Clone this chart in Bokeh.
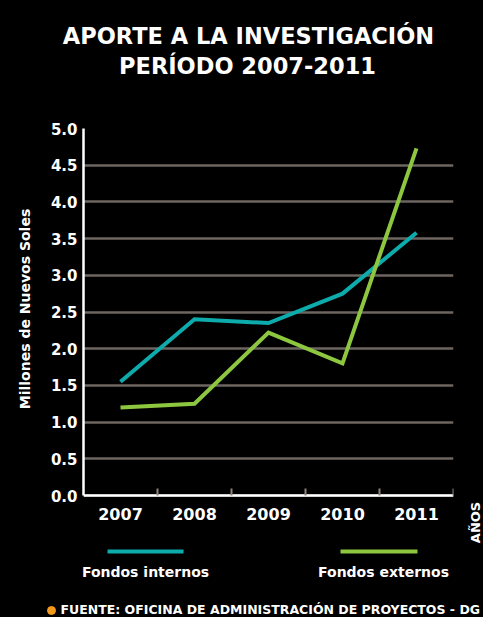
from bokeh.plotting import figure
from bokeh.models import Range1d, FixedTicker, NumeralTickFormatter
from bokeh.layouts import column, row
from bokeh.embed import file_html
from bokeh.resources import INLINE
from bokeh.core.properties import value
import math

# ---- data ----
years = ["2007", "2008", "2009", "2010", "2011"]
fondos_internos = [1.55, 2.40, 2.35, 2.75, 3.58]
fondos_externos = [1.20, 1.25, 2.22, 1.80, 4.73]
y_ticks = [0.0, 0.5, 1.0, 1.5, 2.0, 2.5, 3.0, 3.5, 4.0, 4.5, 5.0]
title_lines = ["APORTE A LA INVESTIGACIÓN", "PERÍODO 2007-2011"]
y_label = "Millones de Nuevos Soles"
x_label = "AÑOS"
series_names = ["Fondos internos", "Fondos externos"]
source_note = "FUENTE: OFICINA DE ADMINISTRACIÓN DE PROYECTOS - DG"

TEAL = "#0eabad"
GREEN = "#8dc63f"
GRID = "#6d6560"
ORANGE = "#f39a1e"
FONT = "DejaVu Sans"
W = 483
TOP_H = 110
MID_H = 435
BOT_H = 617 - TOP_H - MID_H
LEFT_W = 40
MAIN_W = 456 - LEFT_W
SIDE_W = W - LEFT_W - MAIN_W
FRAME_LEFT = 83      # page px of the y axis
FRAME_TOP = 128      # page px of y = top tick
AXIS_Y = 495         # page px of y = 0
PX_PER_UNIT = (AXIS_Y - FRAME_TOP) / y_ticks[-1]
Y_MIN = -(TOP_H + MID_H - AXIS_Y) / PX_PER_UNIT   # frame reaches bottom of row


def blank(width, height, y_range=None):
    f = figure(width=width, height=height, output_backend="svg",
               toolbar_location=None, x_axis_location=None,
               y_axis_location=None, min_border=0,
               x_range=Range1d(0, width),
               y_range=y_range if y_range is not None else Range1d(0, height))
    f.background_fill_color = "black"
    f.border_fill_color = "black"
    f.outline_line_color = None
    f.grid.visible = False
    return f


def to_units(py):
    return (AXIS_Y - py) / PX_PER_UNIT


# ---- title ----
top = blank(W, TOP_H)
top.text(x=[248, 247], y=[TOP_H - 35, TOP_H - 65], text=title_lines,
         text_align="center", text_baseline="middle", text_color="white",
         text_font=value(FONT), text_font_style="bold",
         text_font_size="22.5px")

# ---- main chart ----
xs = [i + 0.5 for i in range(len(years))]
p = figure(width=MAIN_W, height=MID_H, output_backend="svg",
           toolbar_location=None,
           x_range=Range1d(0, len(years)), y_range=Range1d(Y_MIN, y_ticks[-1]),
           min_border_left=FRAME_LEFT - LEFT_W, min_border_right=3,
           min_border_top=FRAME_TOP - TOP_H, min_border_bottom=0)
p.background_fill_color = "black"
p.border_fill_color = "black"
p.outline_line_color = None

p.xgrid.grid_line_color = None
p.ygrid.ticker = FixedTicker(ticks=y_ticks)
p.ygrid.grid_line_color = GRID
p.ygrid.grid_line_width = 2.5

ya = p.yaxis[0]
ya.ticker = FixedTicker(ticks=y_ticks)
ya.bounds = (y_ticks[0], y_ticks[-1])
ya.formatter = NumeralTickFormatter(format="0.0")
ya.axis_line_color = "white"
ya.axis_line_width = 2.5
ya.major_tick_line_color = None
ya.minor_tick_line_color = None
ya.major_tick_out = 0
ya.major_tick_in = 0
ya.minor_tick_out = 0
ya.major_label_text_color = "white"
ya.major_label_text_font = FONT
ya.major_label_text_font_style = "bold"
ya.major_label_text_font_size = "15px"
ya.major_label_standoff = 6

xa = p.xaxis[0]
xa.fixed_location = 0
xa.bounds = (0, len(years))
xa.ticker = FixedTicker(ticks=xs, minor_ticks=list(range(1, len(years) + 1)))
xa.major_label_overrides = {x: y for x, y in zip(xs, years)}
xa.axis_line_color = "white"
xa.axis_line_width = 2.5
xa.major_tick_line_color = None
xa.minor_tick_line_color = "#8a8580"
xa.minor_tick_line_width = 2
xa.minor_tick_in = 7
xa.minor_tick_out = 0
xa.major_tick_out = 0
xa.major_tick_in = 0
xa.major_label_text_color = "white"
xa.major_label_text_font = FONT
xa.major_label_text_font_style = "bold"
xa.major_label_text_font_size = "16px"
xa.major_label_standoff = 12

p.line(xs, fondos_internos, line_color=TEAL, line_width=4, line_join="miter")
p.line(xs, fondos_externos, line_color=GREEN, line_width=4, line_join="miter")

# ---- left strip with the y-axis label (shares the chart's y scale) ----
left = blank(LEFT_W, MID_H, y_range=p.y_range)
left.text(x=[24], y=[to_units(308.5)], text=[y_label], angle=math.pi / 2,
          text_align="center", text_baseline="middle", text_color="white",
          text_font=value(FONT), text_font_style="bold",
          text_font_size="14px")

# ---- right strip with the x-axis label (shares the chart's y scale) ----
side = blank(SIDE_W, MID_H, y_range=p.y_range)
side.text(x=[475 - LEFT_W - MAIN_W], y=[to_units(522)], text=[x_label],
          angle=math.pi / 2, text_align="center", text_baseline="middle",
          text_color="white", text_font=value(FONT), text_font_style="bold",
          text_font_size="13px")

# ---- legend + source ----
bot = blank(W, BOT_H)
y0 = TOP_H + MID_H


def by(py):
    return BOT_H - (py - y0)


bot.line([107, 183], [by(551), by(551)], line_color=TEAL, line_width=4)
bot.line([340, 417], [by(551), by(551)], line_color=GREEN, line_width=4)
bot.text(x=[145, 383], y=[by(571), by(571)], text=series_names,
         text_align="center", text_baseline="middle", text_color="white",
         text_font=value(FONT), text_font_style="bold", text_font_size="14px")
bot.scatter([51], [by(610)], size=8, color=ORANGE)
bot.text(x=[60], y=[by(609)], text=[source_note], text_align="left",
         text_baseline="middle", text_color="white",
         text_font=value(FONT), text_font_style="bold",
         text_font_size="12.5px")

layout = column(top, row(left, p, side), bot)

html = file_html(layout, INLINE)
html = html.replace("<head>", "<head><style>html,body{background:#000;}</style>", 1)
open("out.html", "w").write(html)
